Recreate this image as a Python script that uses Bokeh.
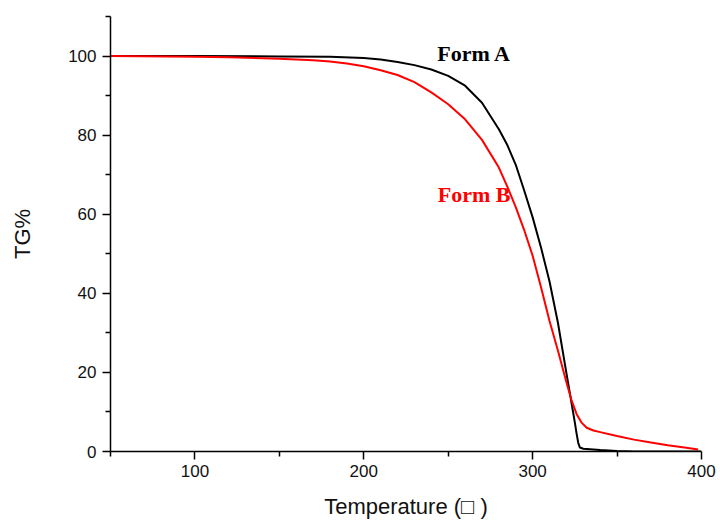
from bokeh.plotting import figure
from bokeh.models import FixedTicker, Range1d
from bokeh.core.properties import value
from bokeh.embed import file_html
from bokeh.resources import INLINE

# Form A (black)
temp_a = [50, 100, 150, 180, 200, 210, 220, 230, 240, 250, 260, 270, 280, 285, 290,
          295, 300, 305, 310, 315, 320, 322.5, 325, 326, 327, 328, 330, 340, 350, 360, 400]
tg_a = [100.0, 100.0, 99.9, 99.8, 99.5, 99.1, 98.5, 97.7, 96.6, 95.0, 92.5, 88.2, 81.5, 77.5, 72.5,
        66.0, 59.2, 51.5, 43.0, 32.5, 19.8, 13.6, 7.3, 4.6, 2.2, 1.0, 0.7, 0.4, 0.15, 0.0, 0.0]

# Form B (red)
temp_b = [50, 100, 120, 150, 170, 180, 190, 200, 210, 220, 230, 240, 250, 260, 270, 280,
          285, 290, 295, 300, 305, 310, 315, 320, 323, 326, 329, 332, 336, 340, 350, 360,
          370, 380, 390, 398]
tg_b = [100.0, 99.85, 99.7, 99.3, 98.95, 98.6, 98.1, 97.4, 96.4, 95.2, 93.4, 90.8, 87.8, 84.0,
        78.8, 71.8, 67.0, 61.8, 56.0, 49.5, 41.5, 33.0, 25.5, 17.5, 13.0, 9.5, 7.3, 6.0,
        5.3, 4.9, 3.9, 3.0, 2.3, 1.6, 1.0, 0.5]

x_ticks = [100, 200, 300, 400]
x_minor = [50, 150, 250, 350]
y_ticks = [0, 20, 40, 60, 80, 100]
y_minor = [10, 30, 50, 70, 90, 110]

label_a = "Form A"
label_b = "Form B"

p = figure(width=716, height=522, output_backend="svg", toolbar_location=None,
           x_range=Range1d(50, 400), y_range=Range1d(0, 110),
           min_border_left=110, min_border_right=15, min_border_top=16, min_border_bottom=71)
p.outline_line_color = None
p.xgrid.visible = False
p.ygrid.visible = False

p.line(temp_a, tg_a, line_color="black", line_width=2)
p.line(temp_b, tg_b, line_color="#ff0000", line_width=2)

p.text(x=[243.5], y=[100.6], text=[label_a], text_font=value("Liberation Serif"),
       text_font_style="bold", text_font_size="22px", text_color="black",
       text_baseline="alphabetic", text_align="left")
p.text(x=[243.8], y=[65.1], text=[label_b], text_font=value("Liberation Serif"),
       text_font_style="bold", text_font_size="22px", text_color="#ff0000",
       text_baseline="alphabetic", text_align="left")

for ax in (p.xaxis[0], p.yaxis[0]):
    ax.axis_line_color = "black"
    ax.axis_line_width = 1.5
    ax.major_tick_line_color = "black"
    ax.minor_tick_line_color = "black"
    ax.major_tick_line_width = 1.5
    ax.minor_tick_line_width = 1.5
    ax.major_tick_in = 0
    ax.major_tick_out = 8
    ax.minor_tick_in = 0
    ax.minor_tick_out = 5
    ax.major_label_text_font = "Liberation Sans"
    ax.major_label_text_font_size = "17px"
    ax.major_label_text_color = "#111111"
    ax.axis_label_text_font = "Liberation Sans"
    ax.axis_label_text_font_size = "22px"
    ax.axis_label_text_font_style = "normal"
    ax.axis_label_text_color = "#111111"

p.xaxis[0].ticker = FixedTicker(ticks=x_ticks, minor_ticks=x_minor)
p.yaxis[0].ticker = FixedTicker(ticks=y_ticks, minor_ticks=y_minor)
p.xaxis.axis_label = "Temperature (\u25a1 )"
p.yaxis.axis_label = "TG%"
p.xaxis.major_label_standoff = 5
p.yaxis.major_label_standoff = 6
p.xaxis.axis_label_standoff = 14
p.yaxis.axis_label_standoff = 30

open("out.html", "w").write(file_html(p, INLINE))
